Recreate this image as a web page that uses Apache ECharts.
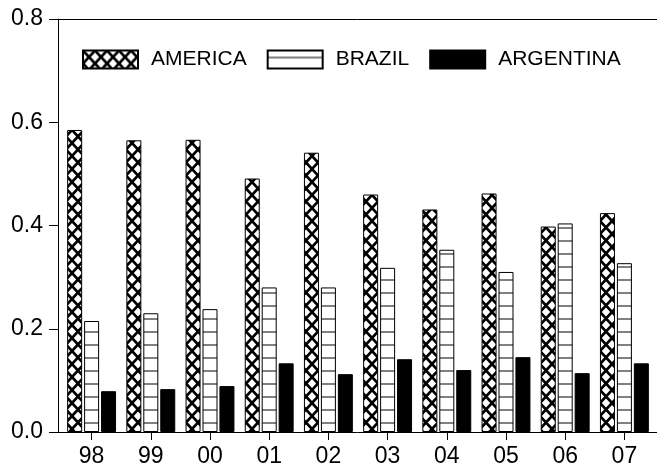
<!DOCTYPE html>
<html>
<head>
<meta charset="utf-8">
<script src="https://cdn.jsdelivr.net/npm/echarts@6/dist/echarts.min.js"></script>
<style>
  html, body { margin: 0; padding: 0; background: #fff; }
  #chart { width: 657px; height: 472px; }
</style>
</head>
<body>
<div id="chart"></div>
<script>
// Years (two-digit labels)
const years = ['98', '99', '00', '01', '02', '03', '04', '05', '06', '07'];

// Series values
const america   = [0.585, 0.565, 0.566, 0.491, 0.541, 0.460, 0.431, 0.462, 0.398, 0.424];
const brazil    = [0.215, 0.230, 0.238, 0.280, 0.280, 0.318, 0.353, 0.310, 0.404, 0.327];
const argentina = [0.079, 0.083, 0.089, 0.133, 0.112, 0.141, 0.120, 0.145, 0.114, 0.133];

// Y axis ticks
const yMin = 0.0, yMax = 0.8, yStep = 0.2;

// Cross-hatch fill (diamond lattice)
function crossPattern() {
  const c = document.createElement('canvas');
  const w = 12, h = 13;
  c.width = w; c.height = h;
  const g = c.getContext('2d');
  g.fillStyle = '#fff';
  g.fillRect(0, 0, w, h);
  g.strokeStyle = '#000';
  g.lineWidth = 2.7;
  g.beginPath();
  g.moveTo(-1, -h / w); g.lineTo(w + 1, h + h / w);
  g.moveTo(w + 1, -h / w); g.lineTo(-1, h + h / w);
  g.stroke();
  return c;
}

// Horizontal stripe fill
function stripePattern() {
  const c = document.createElement('canvas');
  const w = 4, h = 13;
  c.width = w; c.height = h;
  const g = c.getContext('2d');
  g.fillStyle = '#fff';
  g.fillRect(0, 0, w, h);
  g.fillStyle = '#808080';
  g.fillRect(0, 6, w, 2);
  return c;
}

const chart = echarts.init(document.getElementById('chart'), null, { renderer: 'canvas' });

const font = '"Liberation Sans", Arial, Helvetica, sans-serif';

chart.setOption({
  animation: false,
  backgroundColor: '#fff',
  grid: { left: 62, right: 3, top: 19, bottom: 40, containLabel: false },
  legend: {
    left: 77,
    top: 44,
    icon: 'rect',
    itemWidth: 55,
    itemHeight: 18,
    itemGap: 20,
    textStyle: { fontFamily: font, fontSize: 21, color: '#000', padding: [0, 0, 0, 8] },
    data: ['AMERICA', 'BRAZIL', 'ARGENTINA']
  },
  xAxis: {
    type: 'category',
    data: years,
    axisLine: { show: false },
    axisTick: { show: true, alignWithLabel: true, length: 8, lineStyle: { color: '#000', width: 1 } },
    axisLabel: { fontFamily: font, fontSize: 23, color: '#000', margin: 13 },
    splitLine: { show: false }
  },
  yAxis: {
    type: 'value',
    min: yMin,
    max: yMax,
    interval: yStep,
    offset: 4,
    axisLine: { show: true, lineStyle: { color: '#000', width: 1 } },
    axisTick: { show: true, length: 9, lineStyle: { color: '#000', width: 1 } },
    axisLabel: {
      fontFamily: font, fontSize: 23, color: '#000', margin: 15,
      formatter: v => v.toFixed(1)
    },
    splitLine: { show: false }
  },
  graphic: [
    { type: 'line', shape: { x1: 58, y1: 19.5, x2: 657, y2: 19.5 }, style: { stroke: '#000', lineWidth: 1 }, z: 100 },
    { type: 'line', shape: { x1: 58, y1: 432.5, x2: 657, y2: 432.5 }, style: { stroke: '#000', lineWidth: 1 }, z: 100 }
  ],
  series: [
    {
      name: 'AMERICA', type: 'bar', data: america,
      barWidth: 15, barGap: '13%',
      itemStyle: { color: { image: crossPattern(), repeat: 'repeat' }, borderColor: '#000', borderWidth: 1 }
    },
    {
      name: 'BRAZIL', type: 'bar', data: brazil,
      barWidth: 15, barGap: '13%',
      itemStyle: { color: { image: stripePattern(), repeat: 'repeat' }, borderColor: '#000', borderWidth: 1 }
    },
    {
      name: 'ARGENTINA', type: 'bar', data: argentina,
      barWidth: 15, barGap: '13%',
      itemStyle: { color: '#000', borderColor: '#000', borderWidth: 1 }
    }
  ]
});
</script>
</body>
</html>
